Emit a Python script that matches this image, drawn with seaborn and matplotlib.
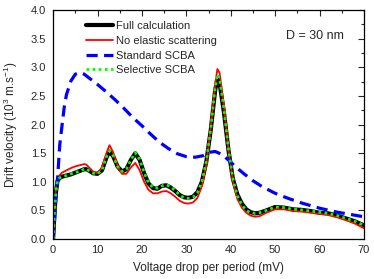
# DRIFT VELOCITY VS VOLTAGE DROP

import matplotlib
matplotlib.use('Agg')
import matplotlib.pyplot as plt
import seaborn as sns
from matplotlib.ticker import MultipleLocator

############################
# 1.0. DATA
############################

# shared voltage grid for full / no elastic / selective (mV)
volt = [0, 0.3, 0.6, 1, 1.5, 2, 3, 4, 5, 6, 7, 7.5, 8, 9, 10, 11, 12, 12.7,
        13.5, 14.5, 15.5, 16.5, 17.5, 18.5, 19.5, 20.5, 21.5, 22.5, 23.5,
        24.5, 25.5, 26.5, 27.5, 28.5, 29.5, 30.5, 31.5, 32.5, 33.5, 34.5,
        35.5, 36.5, 37, 37.5, 38.5, 39.5, 40.5, 41.5, 42.5, 43.5, 44.5, 45.5,
        46.5, 48, 50, 52, 54, 56, 58, 60, 62, 64, 66, 68, 70]

full_calc = [0, 0.45, 0.8, 1.02, 1.07, 1.09, 1.11, 1.13, 1.16, 1.19, 1.22,
             1.22, 1.2, 1.15, 1.14, 1.2, 1.42, 1.53, 1.45, 1.27, 1.18, 1.22,
             1.38, 1.5, 1.38, 1.15, 0.97, 0.89, 0.88, 0.93, 0.94, 0.9, 0.84,
             0.77, 0.73, 0.72, 0.74, 0.82, 1.0, 1.35, 1.9, 2.6, 2.8, 2.72,
             2.2, 1.55, 1.05, 0.78, 0.62, 0.52, 0.47, 0.45, 0.46, 0.5, 0.56,
             0.55, 0.52, 0.51, 0.49, 0.46, 0.45, 0.41, 0.36, 0.31, 0.24]

no_elastic = [0, 0.5, 0.85, 1.05, 1.12, 1.16, 1.2, 1.24, 1.27, 1.29, 1.31,
              1.3, 1.26, 1.18, 1.15, 1.25, 1.5, 1.64, 1.52, 1.28, 1.14, 1.14,
              1.25, 1.33, 1.2, 1.0, 0.86, 0.8, 0.8, 0.83, 0.84, 0.8, 0.74,
              0.67, 0.63, 0.62, 0.64, 0.72, 0.92, 1.3, 1.95, 2.7, 2.97, 2.9,
              2.3, 1.55, 1.0, 0.7, 0.55, 0.46, 0.41, 0.39, 0.4, 0.46, 0.52,
              0.52, 0.49, 0.48, 0.46, 0.44, 0.42, 0.38, 0.33, 0.27, 0.19]

selective = [0, 0.45, 0.8, 1.03, 1.07, 1.09, 1.11, 1.14, 1.16, 1.19, 1.22,
             1.23, 1.2, 1.15, 1.14, 1.2, 1.43, 1.54, 1.46, 1.27, 1.18, 1.22,
             1.38, 1.51, 1.39, 1.16, 0.98, 0.9, 0.89, 0.93, 0.95, 0.91, 0.85,
             0.77, 0.72, 0.71, 0.73, 0.81, 1.0, 1.35, 1.92, 2.65, 2.88, 2.8,
             2.25, 1.57, 1.05, 0.76, 0.6, 0.5, 0.46, 0.45, 0.46, 0.5, 0.56,
             0.55, 0.52, 0.51, 0.49, 0.47, 0.45, 0.41, 0.36, 0.31, 0.24]

# standard SCBA on its own grid
volt_scba = [0, 0.3, 0.6, 1, 1.5, 2, 2.5, 3, 4, 5, 6, 7, 8, 10, 12, 14, 16,
             18, 20, 22, 24, 26, 28, 30, 32, 34, 35.5, 36.5, 38, 39.5, 41, 43,
             45, 47, 50, 53, 56, 60, 64, 67, 70]
standard_scba = [0, 0.3, 0.7, 1.05, 1.65, 1.98, 2.3, 2.52, 2.76, 2.88, 2.91,
                 2.88, 2.82, 2.7, 2.57, 2.43, 2.28, 2.12, 1.98, 1.83, 1.69,
                 1.58, 1.49, 1.44, 1.43, 1.46, 1.52, 1.53, 1.48, 1.38, 1.27,
                 1.14, 1.02, 0.92, 0.8, 0.71, 0.63, 0.54, 0.47, 0.43, 0.39]

############################
# 2.0. PLOT
############################

sns.set_style('white')
plt.rcParams['font.family'] = ['Liberation Sans', 'DejaVu Sans']
plt.rcParams['mathtext.fontset'] = 'custom'
plt.rcParams['mathtext.rm'] = 'Liberation Sans'

fig = plt.figure(figsize=(3.74, 2.79), dpi=100)
ax = fig.add_axes([0.142, 0.143, 0.831, 0.821])

sns.lineplot(x=volt, y=full_calc, ax=ax, color='black', lw=3.0,
             label='Full calculation', sort=False, estimator=None)
sns.lineplot(x=volt, y=no_elastic, ax=ax, color='#ff0000', lw=1.3,
             label='No elastic scattering', sort=False, estimator=None)
sns.lineplot(x=volt_scba, y=standard_scba, ax=ax, color='#0000ff', lw=2.3,
             label='Standard SCBA', sort=False, estimator=None)
ax.lines[-1].set_dashes([3.5, 2])
sns.lineplot(x=volt, y=selective, ax=ax, color='#00ff00', lw=2.0,
             label='Selective SCBA', sort=False, estimator=None)
ax.lines[-1].set_dashes([1, 1.2])

ax.set_xlim(0, 70)
ax.set_ylim(0, 4.0)
ax.xaxis.set_major_locator(MultipleLocator(10))
ax.xaxis.set_minor_locator(MultipleLocator(5))
ax.yaxis.set_major_locator(MultipleLocator(0.5))
ax.yaxis.set_minor_locator(MultipleLocator(0.25))
ax.yaxis.set_major_formatter(plt.FormatStrFormatter('%.1f'))
ax.tick_params(which='both', direction='in', top=True, right=True,
               labelsize=8, width=0.8)
ax.tick_params(axis='x', pad=4)
ax.tick_params(axis='y', pad=5)
ax.tick_params(which='major', length=4)
ax.tick_params(which='minor', length=2)
for sp in ax.spines.values():
    sp.set_linewidth(0.9)
    sp.set_color('black')

ax.set_xlabel('Voltage drop per period (mV)', fontsize=8.5, labelpad=5)
ax.set_ylabel('Drift velocity (10$^3$ m.s$^{-1}$)', fontsize=8.5, labelpad=8)
ax.text(0.935, 0.885, 'D = 30 nm', transform=ax.transAxes, ha='right',
        va='center', fontsize=9)

ax.legend(loc='upper left', bbox_to_anchor=(0.085, 0.98), frameon=False,
          fontsize=8, handlelength=2.4, handletextpad=0.3, labelspacing=0.42,
          borderaxespad=0.2)

fig.savefig('out.png', dpi=100)
